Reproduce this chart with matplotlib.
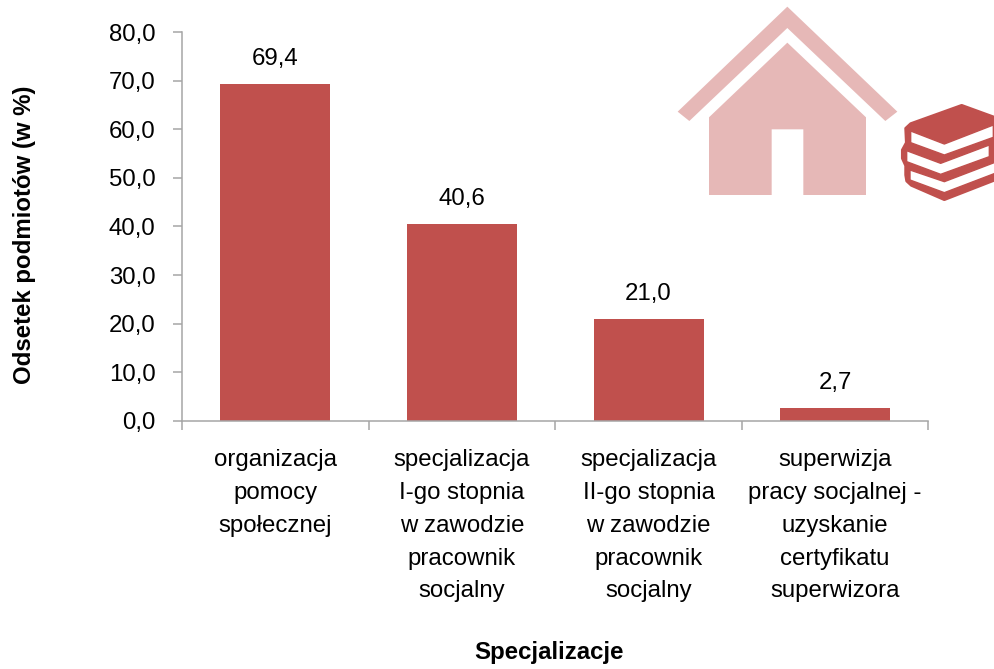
import numpy as np
import matplotlib
matplotlib.use('Agg')
import matplotlib.pyplot as plt
from matplotlib.patches import Polygon

categories = ['organizacja\npomocy\nspołecznej',
              'specjalizacja\nI-go stopnia\nw zawodzie\npracownik\nsocjalny',
              'specjalizacja\nII-go stopnia\nw zawodzie\npracownik\nsocjalny',
              'superwizja\npracy socjalnej -\nuzyskanie\ncertyfikatu\nsuperwizora']
values = [69.4, 40.6, 21.0, 2.7]
yticks = [0, 10, 20, 30, 40, 50, 60, 70, 80]

RED = '#c0504d'
PINK = '#e6b8b7'
GREY = '#a6a6a6'
FS = 17.3

plt.rcParams['font.family'] = ['Liberation Sans', 'DejaVu Sans']

W, H = 995., 669.
fig = plt.figure(figsize=(9.95, 6.69), dpi=100)
ax = fig.add_axes([182/W, 1-421/H, 746.5/W, 389/H])

x = np.arange(len(values))
ax.bar(x, values, width=0.59, color=RED, zorder=2)
ax.set_xlim(-0.5, 3.5)
ax.set_ylim(0, 80)

for xi, v in zip(x, values):
    ax.annotate(('%.1f' % v).replace('.', ','), (xi, v), xytext=(0, 10),
                textcoords='offset points', ha='center', va='bottom', fontsize=FS)

ax.set_yticks(yticks)
ax.set_yticklabels([('%.1f' % t).replace('.', ',') for t in yticks], fontsize=FS)
ax.set_xticks([-0.5, 0.5, 1.5, 2.5, 3.5])
ax.set_xticklabels([])
ax.set_xticks(x, minor=True)
ax.set_xticklabels(categories, minor=True, fontsize=FS, linespacing=1.63, ha='center')
ax.tick_params(axis='x', which='minor', length=0, pad=20.5)
ax.tick_params(axis='x', which='major', length=6.5, width=1.1, color=GREY, direction='out')
ax.tick_params(axis='y', length=6.5, width=1.1, color=GREY, direction='out', pad=12.5)

for s in ('top', 'right'):
    ax.spines[s].set_visible(False)
for s in ('left', 'bottom'):
    ax.spines[s].set_color(GREY)
    ax.spines[s].set_linewidth(1.1)

fig.text(549/W, 1-653/H, 'Specjalizacje', fontsize=FS, fontweight='bold', ha='center', va='center')
fig.text(25/W, 1-235/H, 'Odsetek podmiotów (w %)', fontsize=FS, fontweight='bold',
         rotation=90, ha='center', va='center')

# icons, pixel coords taken from the zoomed crop (3x, origin at 670,0)
ov = fig.add_axes([0, 0, 1, 1], facecolor='none')
ov.set_xlim(0, W)
ov.set_ylim(H, 0)
ov.axis('off')

def icon(pts, color, edge='none', lw=0):
    pts = np.array(pts, dtype=float)
    pts = np.column_stack([670 + pts[:, 0]/3., pts[:, 1]/3.])
    ov.add_patch(Polygon(pts, closed=True, facecolor=color, edgecolor=edge, linewidth=lw,
                         joinstyle='round'))

# house
icon([(352, 20), (682, 335), (646, 363), (352, 84), (58, 363), (23, 335)], PINK)
icon([(352, 128), (588, 352), (588, 585), (400, 585), (400, 388), (305, 388),
      (305, 585), (117, 585), (117, 352)], PINK)

# books, pages get a thin red edge to thicken the bands
icon([(875, 316), (985, 356), (985, 536), (823, 599), (724, 556), (710, 543), (707, 525),
      (707, 497), (697, 475), (697, 450), (709, 428), (707, 385), (722, 371)], RED, RED, 2)
icon([(722, 393), (823, 432), (970, 375), (970, 412), (823, 465), (722, 428)], 'white', RED, 1)
icon([(710, 452), (812, 490), (958, 435), (958, 470), (812, 523), (710, 485)], 'white', RED, 1)
icon([(720, 510), (823, 545), (975, 487), (975, 520), (823, 578), (720, 540)], 'white', RED, 1)
icon([(972, 425), (975, 425), (975, 460), (972, 460)], 'white')

fig.savefig('out.png', dpi=100)
